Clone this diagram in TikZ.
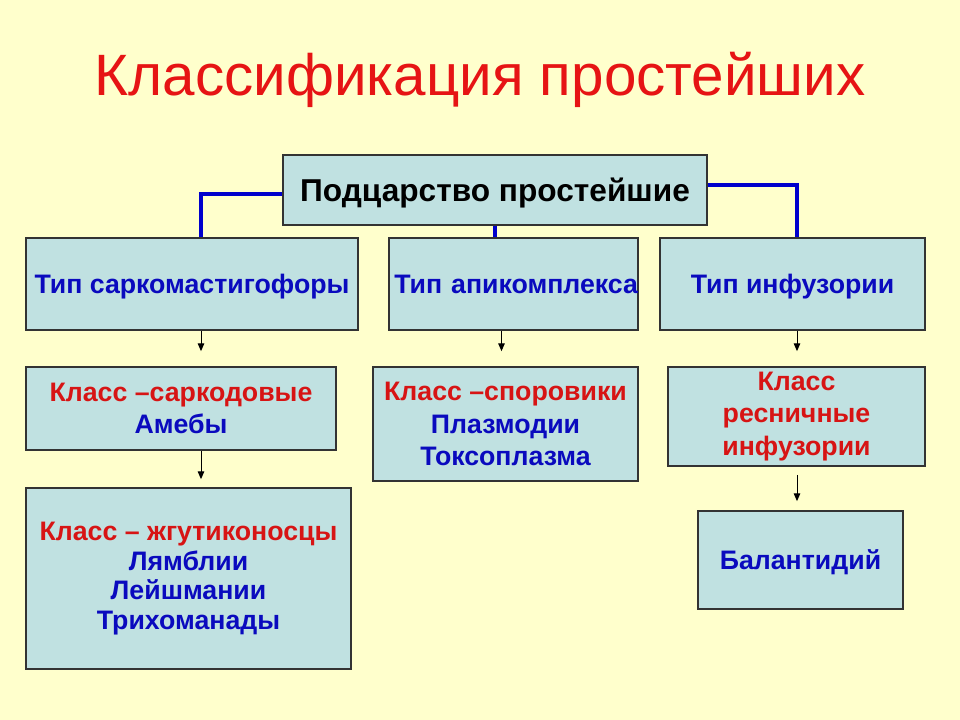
\documentclass[tikz,border=0pt]{standalone}
\usepackage{fontspec}
\setmainfont{Liberation Sans}
\usetikzlibrary{arrows.meta,positioning}
\definecolor{SlideYellow}{RGB}{255,255,204}
\definecolor{BoxTeal}{RGB}{192,225,225}
\definecolor{BoxEdge}{RGB}{51,51,51}
\definecolor{TitleRed}{RGB}{230,20,20}
\definecolor{ClassRed}{RGB}{215,20,20}
\definecolor{NameBlue}{RGB}{10,10,190}
\definecolor{LinkBlue}{RGB}{0,0,204}
\newdimen\pxu \pxu=0.025cm
\tikzset{
  taxbox/.style={draw=BoxEdge,line width=1.2pt,fill=BoxTeal,inner sep=0pt,
    align=center,text=NameBlue,font=\fontsize{19}{23}\selectfont\bfseries},
  onerow/.style={text depth=0pt},
  linkline/.style={draw=LinkBlue,line width=2.8pt},
  downarrow/.style={-{Triangle[length=5.5pt,width=4.6pt]},line width=0.7pt,draw=black},
}
\newcommand{\cls}[1]{{\color{ClassRed}#1}}

\begin{document}
\begin{tikzpicture}[x=0.025cm,y=-0.025cm]
  \fill[SlideYellow] (0,0) rectangle (960,720);
  \coordinate (colA) at (201,0);
  \coordinate (colC) at (797,0);

  \node[font=\fontsize{41.5}{48}\selectfont,text=TitleRed] (title) at (480,80)
    {Классификация простейших};

  % subkingdom and types
  \node[taxbox,onerow,minimum width=424\pxu,minimum height=70\pxu,text=black,
        font=\fontsize{22.5}{26}\selectfont\bfseries] (root) at (495,190)
    {Подцарство простейшие};
  \node[taxbox,onerow,minimum width=332\pxu,minimum height=92\pxu] (type1) at (192,284)
    {Тип саркомастигофоры};
  \node[taxbox,onerow,minimum width=249\pxu,minimum height=92\pxu,
        text width=249\pxu,align=right] (type2) at (513.5,284)
    {Тип апикомплекса};
  \node[taxbox,onerow,minimum width=265\pxu,minimum height=92\pxu] (type3) at (792.5,284)
    {Тип инфузории};

  % classes
  \node[taxbox,minimum width=310\pxu,minimum height=83\pxu] (class1) at (181,408.5)
    {\cls{Класс –саркодовые}\\Амебы};
  \node[taxbox,minimum width=265\pxu,minimum height=114\pxu] (class2) at (505.5,424)
    {\cls{Класс –споровики}\\Плазмодии\\Токсоплазма};
  \node[taxbox,minimum width=257\pxu,minimum height=99\pxu] (class3) at (796.5,416.5)
    {\cls{Класс}\\\cls{ресничные}\\\cls{инфузории}};
  \node[taxbox,minimum width=325\pxu,minimum height=181\pxu,
        font=\fontsize{19}{21}\selectfont\bfseries] (flag) at (188.5,578.5)
    {\cls{Класс – жгутиконосцы}\\Лямблии\\Лейшмании\\Трихоманады};
  \node[taxbox,onerow,minimum width=205\pxu,minimum height=98\pxu] (balant) at (800.5,560)
    {Балантидий};

  \draw[linkline] ([yshift=-4\pxu]root.west) -| (type1.north -| colA);
  \draw[linkline] (root.south) -- (root.south |- type2.north);
  \draw[linkline] ([yshift=5\pxu]root.east) -| (type3.north -| colC);

  \draw[downarrow,shorten >=15\pxu] (type1.south -| colA) -- (class1.north -| colA);
  \draw[downarrow,shorten >=15\pxu] ([xshift=-12\pxu]type2.south) -- ([xshift=-12\pxu]type2.south |- class2.north);
  \draw[downarrow,shorten >=15\pxu] (type3.south -| colC) -- (class3.north -| colC);
  \draw[downarrow,shorten >=8\pxu] (class1.south -| colA) -- (flag.north -| colA);
  \draw[downarrow,shorten <=8\pxu,shorten >=9\pxu] (class3.south -| colC) -- (balant.north -| colC);
\end{tikzpicture}
\end{document}
